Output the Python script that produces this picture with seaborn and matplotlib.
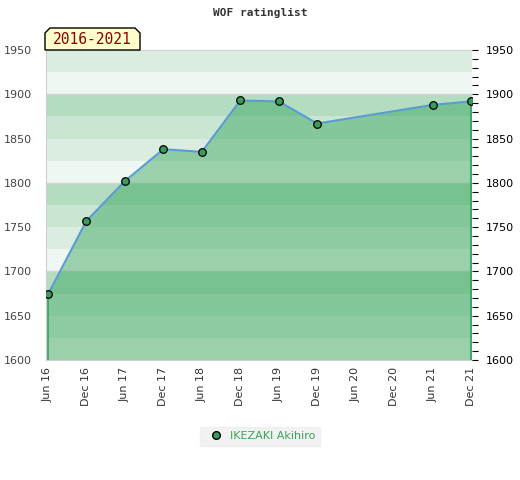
import matplotlib
matplotlib.use("Agg")
import matplotlib.pyplot as plt
from matplotlib.lines import Line2D
from matplotlib.patches import Polygon
from matplotlib.ticker import MultipleLocator
import seaborn as sns
import pandas as pd

# months since Jun 2016
months = [0, 6, 12, 18, 24, 30, 36, 42, 60, 66]
ratings = [1674, 1757, 1802, 1838, 1835, 1893, 1892, 1867, 1888, 1892]
tick_months = [0, 6, 12, 18, 24, 30, 36, 42, 48, 54, 60, 66]
tick_labels = ["Jun 16", "Dec 16", "Jun 17", "Dec 17", "Jun 18", "Dec 18",
               "Jun 19", "Dec 19", "Jun 20", "Dec 20", "Jun 21", "Dec 21"]
player = "IKEZAKI Akihiro"
period = "2016-2021"

df = pd.DataFrame({"month": months, "rating": ratings})

sns.set_style("white")
plt.rcParams['font.family'] = ['DejaVu Sans']

W, H = 520, 480
fig = plt.figure(figsize=(5.2, 4.8), dpi=100)
ax = fig.add_axes([0.0885, 0.25, 0.8192, 0.6458])

ymin, ymax = 1600, 1950
band_cols = {0: "#eff7f2", 25: "#dbede1", 50: "#c9e6d3", 75: "#b3dcc1"}
for s in range(ymin, ymax, 25):
    ax.axhspan(s, s + 25, color=band_cols[s % 100], lw=0, zorder=0)
for g in [1700, 1800, 1900]:
    ax.axhline(g, color="#d4d4d4", lw=1, zorder=0.5)

ax.fill_between(df["month"], df["rating"], ymin, color="#269e4d", alpha=0.42,
                lw=0, zorder=1)
ax.vlines([months[0], months[-1]], ymin, [ratings[0], ratings[-1]],
          color="#2ca05a", lw=1.2, zorder=2)
sns.lineplot(data=df, x="month", y="rating", ax=ax, color="#5b9bd5", lw=1.5,
             zorder=3)
sns.scatterplot(data=df, x="month", y="rating", ax=ax, color="#3a9c5a",
                edgecolor="black", linewidth=0.9, s=30, zorder=4)

ax.set_xlim(-0.3, 66.15)
ax.set_ylim(ymin, ymax)
ax.set_xticks(tick_months)
ax.set_xticklabels(tick_labels, rotation=90, fontsize=8, color="#333333")
ax.set_yticks(range(1600, 1951, 50))
ax.tick_params(axis="y", labelsize=8, labelcolor="#444444", length=0, pad=10)
ax.tick_params(axis="x", length=0, pad=5)
ax.set_xlabel("")
ax.set_ylabel("")
for side in ["left", "bottom", "top"]:
    ax.spines[side].set_color("#d0d0d0")
ax.spines["right"].set_visible(False)

ax2 = ax.twinx()
ax2.set_ylim(ymin, ymax)
ax2.yaxis.set_major_locator(MultipleLocator(50))
ax2.yaxis.set_minor_locator(MultipleLocator(10))
ax2.tick_params(axis="y", which="both", direction="out", length=4,
                width=0.8, color="black", labelsize=8, labelcolor="black", pad=6)
for side in ["left", "bottom", "top", "right"]:
    ax2.spines[side].set_visible(False)

fig.text(0.5, 0.973, "WOF ratinglist", ha="center", va="center",
         family="DejaVu Sans Mono", fontweight="bold", fontsize=8,
         color="#333333")

# period label box with chamfered top corners (pixel outline)
box_px = [(45, 50), (45, 33), (50, 28), (135, 28), (140, 33), (140, 50)]
box = Polygon([(x / W, 1 - y / H) for x, y in box_px], closed=True,
              transform=fig.transFigure, fc="#ffffcc", ec="black", lw=1)
fig.patches.append(box)
fig.text(92.5 / W, 1 - 39.5 / H, period, ha="center", va="center",
         family="DejaVu Sans Mono", fontsize=10.5, color="#8b0000")

handle = Line2D([], [], marker="o", ls="", color="#3a9c5a",
                markeredgecolor="black", markersize=5.5)
leg = fig.legend([handle], [player], loc="center", bbox_to_anchor=(0.5, 0.091),
                 frameon=True, facecolor="#efefef", edgecolor="#efefef",
                 fontsize=8, handletextpad=0.3, borderpad=0.4, fancybox=False)
for t in leg.get_texts():
    t.set_color("#3aa35a")

fig.savefig("out.png", dpi=100)
